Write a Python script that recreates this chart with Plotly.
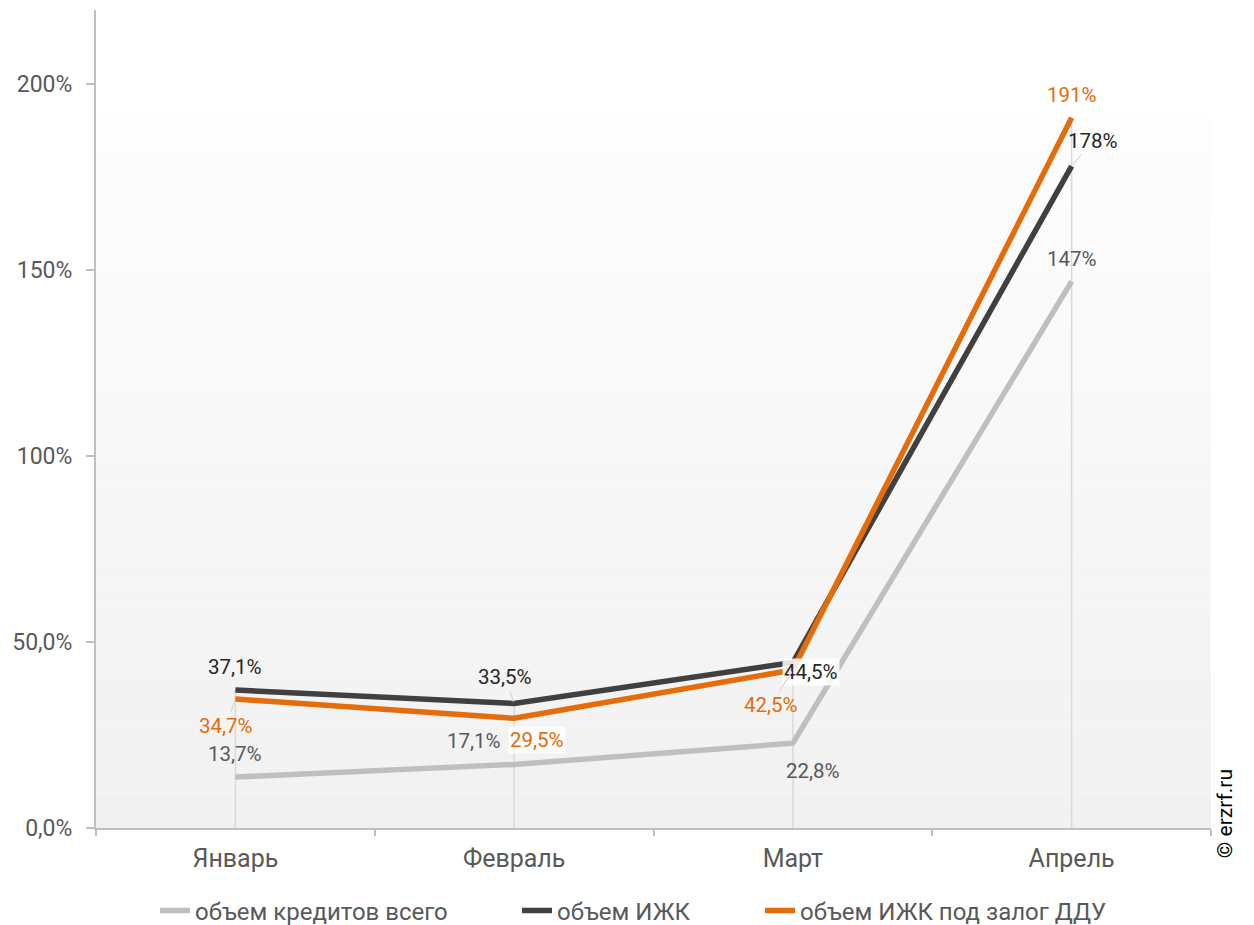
import plotly.graph_objects as go

categories = ["Январь", "Февраль", "Март", "Апрель"]
total_credit = [13.7, 17.1, 22.8, 147]
izhk = [37.1, 33.5, 44.5, 178]
izhk_ddu = [34.7, 29.5, 42.5, 191]
series_names = ["объем кредитов всего", "объем ИЖК", "объем ИЖК под залог ДДУ"]
y_tick_vals = [0, 50, 100, 150, 200]
y_tick_text = ["0,0%", "50,0%", "100%", "150%", "200%"]

colors = ["#BFBFBF", "#404040", "#E46C0A"]
label_colors = ["#595959", "#262626", "#E46C0A"]
FONT = "Roboto"

W, H = 1246, 917  # page body has an 8px margin


def fmt(v):
    if v >= 100:
        return f"{v:.0f}%"
    return f"{v:.1f}%".replace(".", ",")


fig = go.Figure()

# background gradient strips (style only)
n = 60
top = 0.868
for i in range(n):
    y0 = top * i / n
    y1 = top * (i + 1) / n
    t = i / (n - 1)
    c = int(round(241 + (253 - 241) * t))
    fig.add_shape(type="rect", xref="paper", yref="paper", x0=0, x1=1, y0=y0, y1=y1,
                  fillcolor=f"rgb({c},{c},{c})", line=dict(width=0), layer="below")

# drop lines
for i, cat in enumerate(categories):
    m = max(total_credit[i], izhk[i], izhk_ddu[i])
    fig.add_shape(type="line", xref="x", yref="y", x0=cat, x1=cat, y0=0, y1=m,
                  line=dict(color="#D9D9D9", width=1.5), layer="below")

all_series = [total_credit, izhk, izhk_ddu]
legend_ids = ["legend", "legend2", "legend3"]
for s, name, col, lg in zip(all_series, series_names, colors, legend_ids):
    fig.add_trace(go.Scatter(x=categories, y=s, name=name, mode="lines", legend=lg,
                             line=dict(color=col, width=5.5), hoverinfo="skip"))

# label offsets (pixels) : (dx, dy, leader, bg)
offsets = [
    [(0, -23, False, False), (-40, -23, False, False), (20, 28, False, False), (0, -22, False, False)],
    [(0, -23, False, False), (-9, -26, True, False), (18, 9, False, True), (21, -25, True, False)],
    [(-9, 27, True, False), (23, 22, False, True), (-22, 35, True, False), (0, -23, False, False)],
]

for s, lc, offs in zip(all_series, label_colors, offsets):
    for cat, v, (dx, dy, leader, bg) in zip(categories, s, offs):
        kw = dict(x=cat, y=v, xref="x", yref="y", text=fmt(v),
                  font=dict(family=FONT, size=20.5, color=lc),
                  bgcolor="rgba(255,255,255,0.85)" if bg else None, borderpad=1)
        if leader:
            kw.update(showarrow=True, ax=dx, ay=dy, axref="pixel", ayref="pixel",
                      arrowhead=0, arrowwidth=1.3, arrowcolor="#D9D9D9", standoff=2)
        else:
            kw.update(showarrow=False, xshift=dx, yshift=-dy)
        fig.add_annotation(**kw)

fig.add_annotation(text="© erzrf.ru", xref="paper", yref="paper", x=1.0126, y=0.017,
                   xanchor="center", yanchor="middle", textangle=-90, showarrow=False,
                   font=dict(family=FONT, size=21, color="#000000"))

leg_common = dict(orientation="h", xref="container", yref="container", y=1 - 903 / H,
                  yanchor="middle", xanchor="left", bgcolor="rgba(0,0,0,0)",
                  font=dict(family=FONT, size=24, color="#595959"))
fig.update_layout(
    width=W, height=H,
    margin=dict(l=88, r=43, t=2, b=97, autoexpand=False),
    paper_bgcolor="white", plot_bgcolor="rgba(0,0,0,0)",
    font=dict(family=FONT, size=20, color="#595959"),
    showlegend=True,
    legend=dict(x=147 / W, **leg_common),
    legend2=dict(x=509 / W, **leg_common),
    legend3=dict(x=752 / W, **leg_common),
    hovermode=False,
)
fig.update_xaxes(type="category", range=[-0.5, 3.5], showline=True, linecolor="#BFBFBF",
                 linewidth=2, ticks="outside", tickson="boundaries", ticklen=6,
                 tickcolor="#BFBFBF", tickwidth=2, showgrid=False, automargin=False,
                 tickfont=dict(size=25, color="#595959"), ticklabelstandoff=7)
fig.update_yaxes(range=[0, 220], tickvals=y_tick_vals, ticktext=y_tick_text,
                 showline=True, linecolor="#BFBFBF", linewidth=2, ticks="outside",
                 ticklen=8, tickcolor="#BFBFBF", tickwidth=2, showgrid=False, zeroline=False,
                 automargin=False, tickfont=dict(size=23, color="#595959"),
                 ticklabelstandoff=9)

fig.write_html("out.html")
